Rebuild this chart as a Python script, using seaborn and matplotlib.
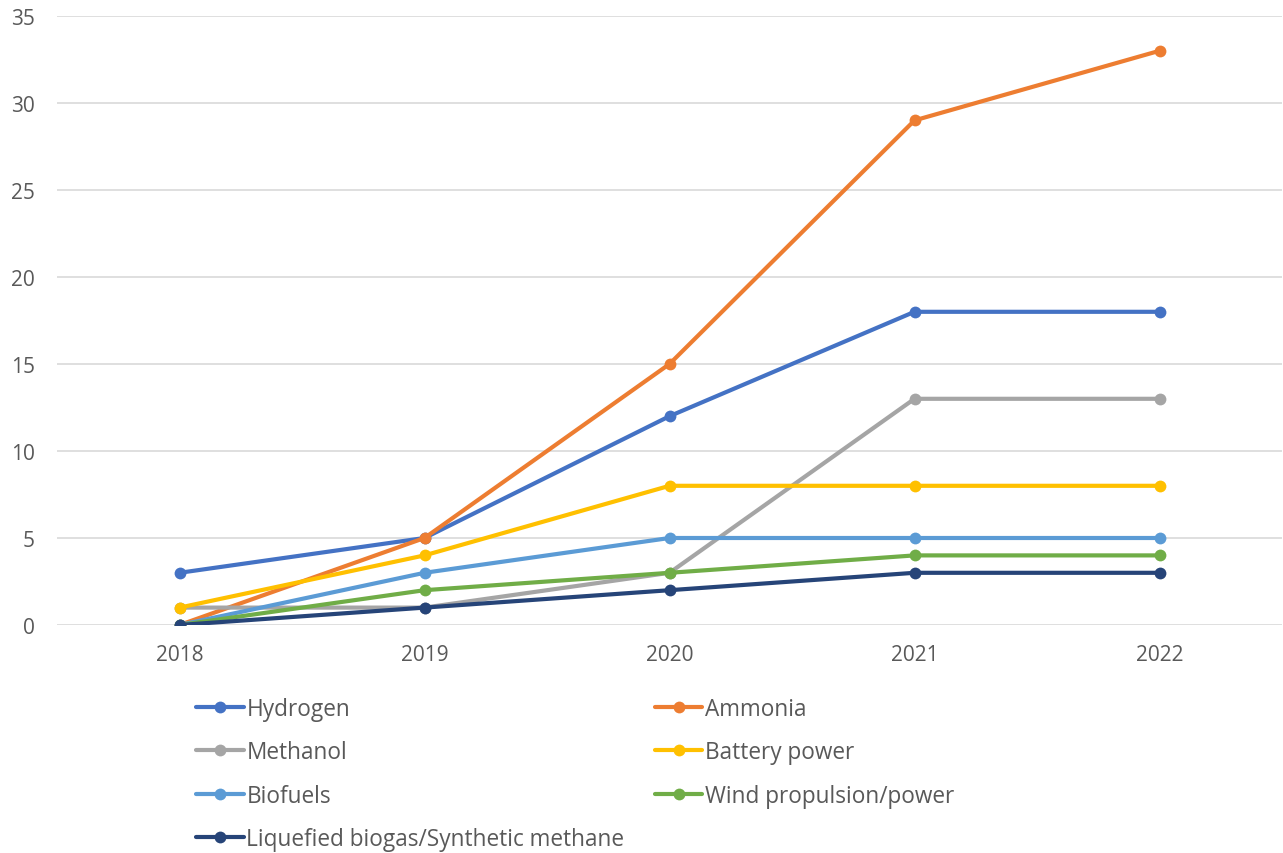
import matplotlib
matplotlib.use("Agg")
import matplotlib.pyplot as plt
import seaborn as sns
import pandas as pd

years = ["2018", "2019", "2020", "2021", "2022"]
series_names = [
    "Hydrogen",
    "Ammonia",
    "Methanol",
    "Battery power",
    "Biofuels",
    "Wind propulsion/power",
    "Liquefied biogas/Synthetic methane",
]
hydrogen = [3, 5, 12, 18, 18]
ammonia = [0, 5, 15, 29, 33]
methanol = [1, 1, 3, 13, 13]
battery_power = [1, 4, 8, 8, 8]
biofuels = [0, 3, 5, 5, 5]
wind_propulsion = [0, 2, 3, 4, 4]
liquefied_biogas = [0, 1, 2, 3, 3]
colors = ["#4472C4", "#ED7D31", "#A5A5A5", "#FFC000", "#5B9BD5", "#70AD47", "#264478"]
y_ticks = [0, 5, 10, 15, 20, 25, 30, 35]

values = [hydrogen, ammonia, methanol, battery_power, biofuels, wind_propulsion, liquefied_biogas]
rows = []
for name, vals in zip(series_names, values):
    for i, (yr, v) in enumerate(zip(years, vals)):
        rows.append({"pos": i, "year": yr, "count": v, "series": name})
df = pd.DataFrame(rows)

sns.set_theme(style="white")
plt.rcParams["font.family"] = ["Open Sans", "DejaVu Sans"]

fig = plt.figure(figsize=(12.83, 8.54), dpi=100)
ax = fig.add_axes([57 / 1283, 1 - 626 / 854, 1225 / 1283, 609 / 854])

sns.lineplot(
    data=df, x="pos", y="count", hue="series", hue_order=series_names,
    palette=colors, marker="o", markersize=8.5, markeredgewidth=0,
    linewidth=3, ax=ax, legend=False, zorder=3,
)

ax.set_xlim(-0.5, 4.5)
ax.set_ylim(0, 35)
ax.set_xticks(range(len(years)))
ax.set_xticklabels(years)
ax.set_yticks(y_ticks)
ax.set_xlabel("")
ax.set_ylabel("")
ax.grid(axis="y", color="#D9D9D9", linewidth=1.2, zorder=0)
ax.set_axisbelow(True)
for s in ax.spines.values():
    s.set_visible(False)
ax.tick_params(axis="both", length=0, labelsize=15, labelcolor="#595959")
ax.tick_params(axis="x", pad=14)
ax.tick_params(axis="y", pad=16)

# legend entries in two columns, row-wise order
handles = []
for name, c in zip(series_names, colors):
    h, = ax.plot([], [], color=c, linewidth=3, marker="o", markersize=8.5,
                 markeredgewidth=0, label=name)
    handles.append(h)
order = [0, 2, 4, 6, 1, 3, 5]
fig.legend(
    [handles[i] for i in order], [series_names[i] for i in order],
    ncol=2, loc="upper left", bbox_to_anchor=(196 / 1283, 1 - 698 / 854),
    frameon=False, fontsize=16.3, labelcolor="#595959",
    handlelength=2.1, handletextpad=0.12, columnspacing=1.35,
    labelspacing=0.855, borderpad=0, borderaxespad=0,
)

fig.savefig("out.png", dpi=100, facecolor="white")
